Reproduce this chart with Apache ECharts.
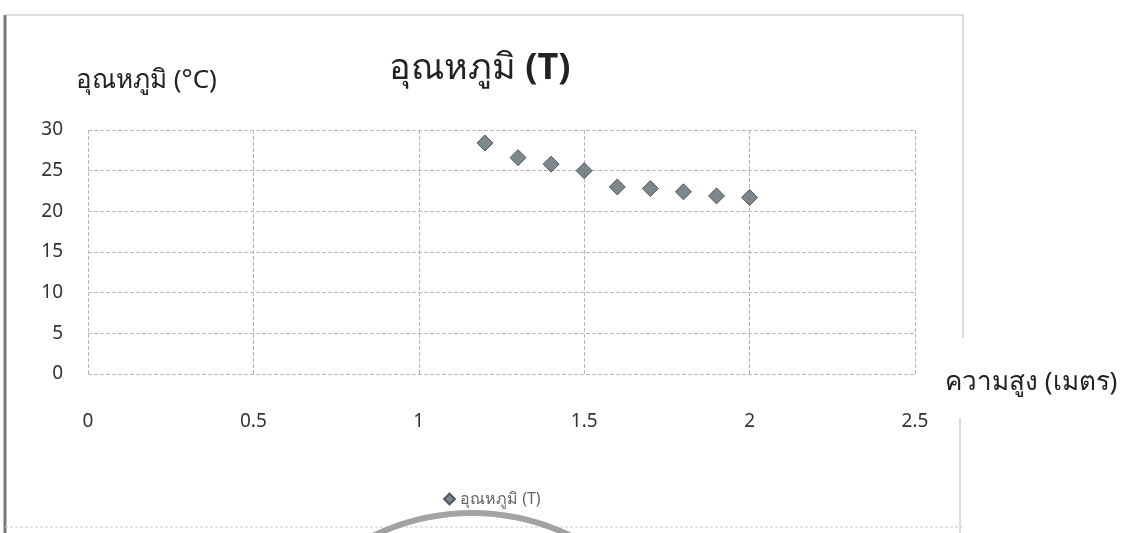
<!DOCTYPE html>
<html>
<head>
<meta charset="utf-8">
<script src="https://cdn.jsdelivr.net/npm/echarts@6/dist/echarts.min.js"></script>
<style>
html,body{margin:0;padding:0;background:#fff;}
#c{width:1128px;height:533px;}
</style>
</head>
<body>
<div id="c"></div>
<script>
var heights = [1.2, 1.3, 1.4, 1.5, 1.6, 1.7, 1.8, 1.9, 2.0];
var temps = [28.4, 26.6, 25.8, 25.0, 23.0, 22.8, 22.4, 21.9, 21.7];
var seriesName = 'อุณหภูมิ (T)';
var titleMain = 'อุณหภูมิ ';
var titleBold = '(T)';
var yTitle = 'อุณหภูมิ (°C)';
var xTitle = 'ความสูง (เมตร)';

var FONT = '"Noto Sans", "DejaVu Sans", sans-serif';
var points = heights.map(function (h, i) { return [h, temps[i]]; });

var chart = echarts.init(document.getElementById('c'));
chart.setOption({
  backgroundColor: '#ffffff',
  animation: false,
  title: {
    text: '{a|' + titleMain + '}{b|' + titleBold + '}',
    left: 384, top: 46,
    textStyle: {
      fontWeight: 'normal',
      rich: {
        a: {fontFamily: FONT, fontSize: 36, fontWeight: 'normal', color: '#222'},
        b: {fontFamily: FONT, fontSize: 36, fontWeight: 'bold', color: '#222'}
      }
    }
  },
  legend: {
    data: [seriesName],
    left: 438, top: 486,
    icon: 'diamond',
    itemWidth: 11, itemHeight: 11, itemGap: 4,
    textStyle: {fontFamily: FONT, fontSize: 16, color: '#666'}
  },
  grid: {left: 88, right: 213, top: 130, bottom: 159, containLabel: false},
  xAxis: {
    type: 'value', min: 0, max: 2.5, interval: 0.5,
    name: xTitle, nameLocation: 'end', nameGap: 30,
    nameTextStyle: {fontFamily: FONT, fontSize: 26, color: '#222', verticalAlign: 'top', padding: [-4, 0, 0, 0]},
    axisLine: {show: false}, axisTick: {show: false},
    axisLabel: {fontFamily: FONT, fontSize: 19, color: '#333', margin: 38},
    splitLine: {show: true, lineStyle: {color: '#b8b8b8', type: 'dashed', width: 1}}
  },
  yAxis: {
    type: 'value', min: 0, max: 30, interval: 5,
    name: yTitle, nameLocation: 'end', nameGap: 36,
    nameTextStyle: {fontFamily: FONT, fontSize: 26, color: '#222', align: 'left', padding: [0, 0, 0, -12]},
    axisLine: {show: false}, axisTick: {show: false},
    axisLabel: {fontFamily: FONT, fontSize: 19, color: '#333', margin: 25},
    splitLine: {show: true, lineStyle: {color: '#b8b8b8', type: 'dashed', width: 1}}
  },
  series: [{
    name: seriesName,
    type: 'scatter',
    symbol: 'diamond',
    symbolSize: 16,
    data: points,
    itemStyle: {color: '#5d6972', borderColor: '#39424a', borderWidth: 1}
  }],
  graphic: [
    {type: 'line', shape: {x1: 5, y1: 15, x2: 5, y2: 533}, style: {stroke: '#777', lineWidth: 3}},
    {type: 'line', shape: {x1: 5, y1: 15, x2: 963, y2: 15}, style: {stroke: '#bbb', lineWidth: 1}},
    {type: 'line', shape: {x1: 963, y1: 15, x2: 963, y2: 338}, style: {stroke: '#bbb', lineWidth: 1}},
    {type: 'line', shape: {x1: 960, y1: 418, x2: 960, y2: 533}, style: {stroke: '#bbb', lineWidth: 1}},
    {type: 'line', shape: {x1: 5, y1: 527, x2: 963, y2: 527}, style: {stroke: '#ccc', lineWidth: 1, lineDash: [3, 2]}},
    {type: 'arc', shape: {cx: 472, cy: 738, r: 225, startAngle: Math.PI * 1.25, endAngle: Math.PI * 1.75}, style: {stroke: '#a3a3a3', lineWidth: 6, fill: null}}
  ]
});
</script>
</body>
</html>
